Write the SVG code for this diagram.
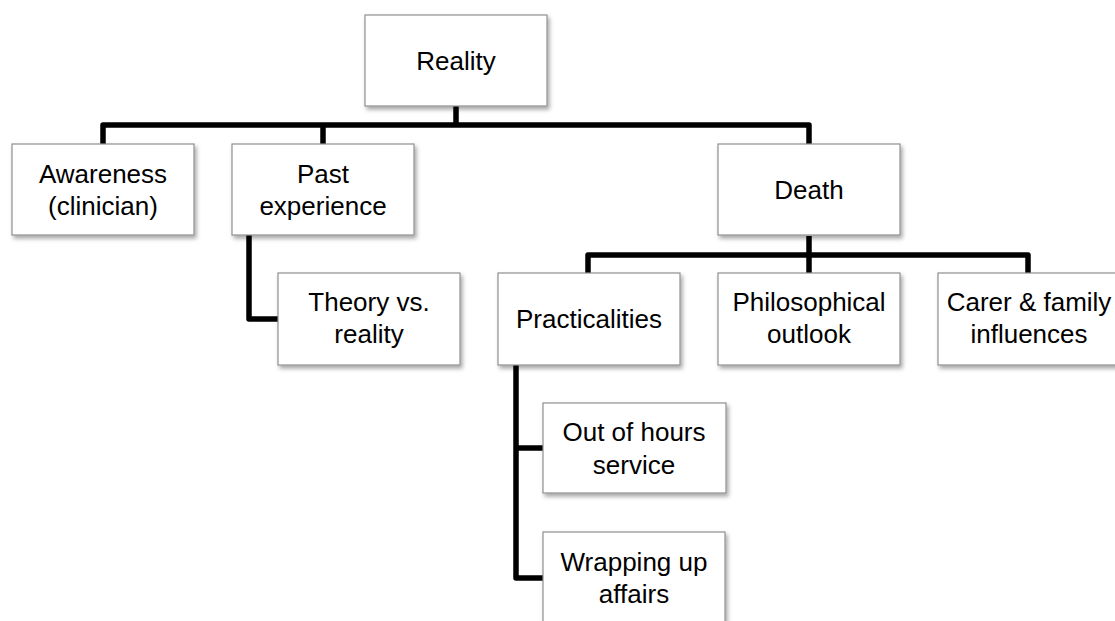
<svg xmlns="http://www.w3.org/2000/svg" width="1115" height="621" viewBox="0 0 1115 621">
<defs>
<filter id="sh" x="-10%" y="-10%" width="130%" height="140%">
<feDropShadow dx="2" dy="3" stdDeviation="2" flood-color="#000" flood-opacity="0.35"/>
</filter>
<style>
.box{fill:#fff;stroke:#8f8f8f;stroke-width:1.2;filter:url(#sh)}
.t{font-family:"Liberation Sans",Arial,sans-serif;font-size:26px;fill:#000;text-anchor:middle}
.c{fill:none;stroke:#000;stroke-width:5.5;stroke-linejoin:round;stroke-linecap:butt}
</style>
</defs>
<rect width="1115" height="621" fill="#fff"/>
<g id="connectors">
<path class="c" d="M456,106 V125"/>
<path class="c" d="M103,144 V125 H809 V144"/>
<path class="c" d="M323,125 V144"/>
<path class="c" d="M249,235 V319 H278"/>
<path class="c" d="M809,236 V255"/>
<path class="c" d="M588,273 V255 H1028 V273"/>
<path class="c" d="M809,255 V273"/>
<path class="c" d="M516,365 V578 H543"/>
<path class="c" d="M516,448 H543"/>
</g>
<g id="reality"><rect class="box" x="365" y="15" width="182" height="91"/><text class="t" x="456" y="70">Reality</text></g>
<g id="awareness"><rect class="box" x="12" y="144" width="182" height="91"/><text class="t" x="103" y="183">Awareness</text><text class="t" x="103" y="215">(clinician)</text></g>
<g id="past-experience"><rect class="box" x="232" y="144" width="182" height="91"/><text class="t" x="323" y="183">Past</text><text class="t" x="323" y="215">experience</text></g>
<g id="death"><rect class="box" x="718" y="144" width="182" height="91"/><text class="t" x="809" y="199">Death</text></g>
<g id="theory"><rect class="box" x="278" y="273" width="182" height="92"/><text class="t" x="369" y="311">Theory vs.</text><text class="t" x="369" y="343">reality</text></g>
<g id="practicalities"><rect class="box" x="498" y="273" width="182" height="92"/><text class="t" x="589" y="328">Practicalities</text></g>
<g id="philosophical"><rect class="box" x="718" y="273" width="182" height="92"/><text class="t" x="809" y="311">Philosophical</text><text class="t" x="809" y="343">outlook</text></g>
<g id="carer"><rect class="box" x="938" y="273" width="182" height="92"/><text class="t" x="1029" y="311">Carer &amp; family</text><text class="t" x="1029" y="343">influences</text></g>
<g id="out-of-hours"><rect class="box" x="543" y="403" width="183" height="90"/><text class="t" x="634" y="441">Out of hours</text><text class="t" x="634" y="474">service</text></g>
<g id="wrapping-up"><rect class="box" x="543" y="532" width="182" height="92"/><text class="t" x="634" y="571">Wrapping up</text><text class="t" x="634" y="603">affairs</text></g>
</svg>
